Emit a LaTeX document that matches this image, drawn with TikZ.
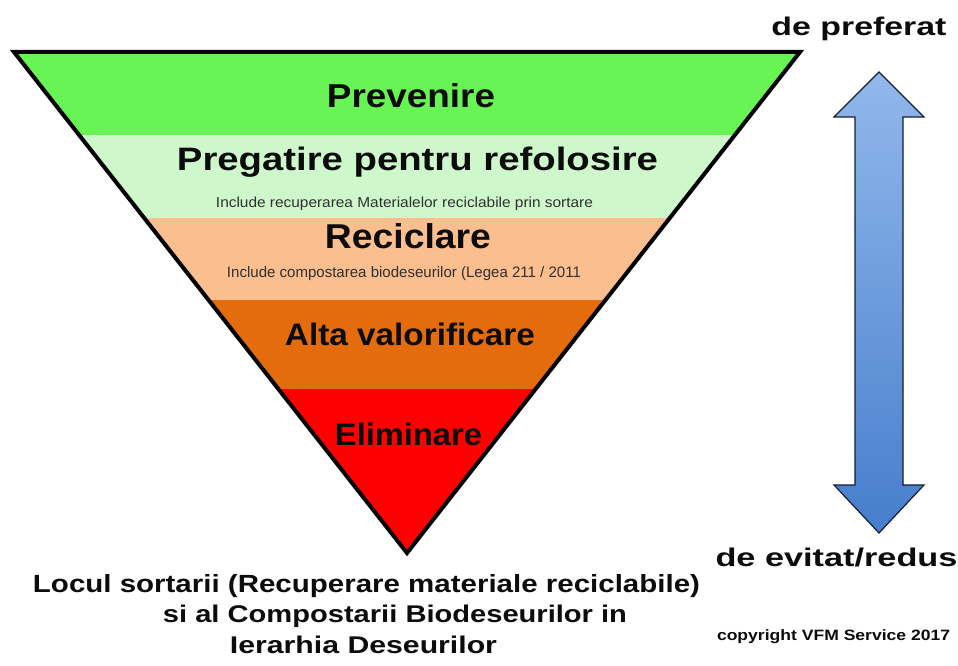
\documentclass[tikz,border=0pt]{standalone}
\usepackage{fontspec}
\setmainfont{Liberation Sans}
\usepackage{graphicx}
\definecolor{bandA}{RGB}{104,244,84}
\definecolor{bandB}{RGB}{206,248,204}
\definecolor{bandC}{RGB}{250,190,143}
\definecolor{bandD}{RGB}{228,108,12}
\definecolor{bandE}{RGB}{255,0,0}
\definecolor{arrTop}{RGB}{146,184,236}
\definecolor{arrBot}{RGB}{70,126,204}
\definecolor{arrEdge}{RGB}{20,30,50}
\definecolor{txt}{RGB}{12,12,12}
\tikzset{
  lbl/.style={inner sep=0pt, outer sep=0pt, anchor=base, text=txt, font=\bfseries},
  sml/.style={inner sep=0pt, outer sep=0pt, anchor=base, text=txt!85!white},
}
\newcommand{\fitbox}[3]{\resizebox{#1pt}{#2pt}{#3}}
\begin{document}
\begin{tikzpicture}[x=1pt,y=-1pt]
\clip (0,0) rectangle (958,666);
\fill[white] (0,0) rectangle (958,666);
% coordinates of the triangle
\coordinate (TL) at (14,52);
\coordinate (TR) at (800,52);
\coordinate (BT) at (407,553);
% bands
\begin{scope}
  \clip (TL) -- (TR) -- (BT) -- cycle;
  \fill[bandA] (0,40) rectangle (820,135);
  \fill[bandB] (0,135) rectangle (820,218);
  \fill[bandC] (0,218) rectangle (820,300);
  \fill[bandD] (0,300) rectangle (820,389);
  \fill[bandE] (0,389) rectangle (820,560);
\end{scope}
\draw[line width=4pt, line join=miter] (TL) -- (TR) -- (BT) -- cycle;
% band labels
\node[lbl] (prev) at (411,107) {\fitbox{168}{24}{Prevenire}};
\node[lbl] (preg) at (417.5,170) {\fitbox{481}{23.5}{Pregatire pentru refolosire}};
\node[sml] (inc1) at (404.5,207) {\fitbox{377}{10.5}{Include recuperarea Materialelor reciclabile prin sortare}};
\node[lbl] (reci) at (408,248) {\fitbox{166}{25}{Reciclare}};
\node[sml] (inc2) at (404,277) {\fitbox{354}{11}{Include compostarea biodeseurilor (Legea 211 / 2011}};
\node[lbl] (alta) at (410,345) {\fitbox{250}{22.5}{Alta valorificare}};
\node[lbl] (elim) at (408.5,445) {\fitbox{147}{22.5}{Eliminare}};
% double arrow
\shade[top color=arrTop, bottom color=arrBot, draw=arrEdge, line width=1.2pt, line join=miter]
  (879,72) -- (924,117) -- (903,117) -- (903,485) -- (924,485) -- (879,533)
  -- (834,485) -- (855,485) -- (855,117) -- (834,117) -- cycle;
% side labels
\node[lbl] (pref) at (859,36) {\fitbox{175}{18.5}{de preferat}};
\node[lbl] (evit) at (836.5,566) {\fitbox{242}{18.5}{de evitat/redus}};
\node[lbl, anchor=base west] (copy) at (717,640) {\scalebox{1.17}[1]{\fontsize{15}{15}\selectfont copyright VFM Service 2017}};
% bottom caption
\node[lbl] (cap1) at (366.5,592) {\fitbox{667}{18}{Locul sortarii (Recuperare materiale reciclabile)}};
\node[lbl] (cap2) at (395,622) {\fitbox{464}{17.5}{si al Compostarii Biodeseurilor in}};
\node[lbl] (cap3) at (363.5,653) {\fitbox{267}{17.5}{Ierarhia Deseurilor}};
\end{tikzpicture}
\end{document}
